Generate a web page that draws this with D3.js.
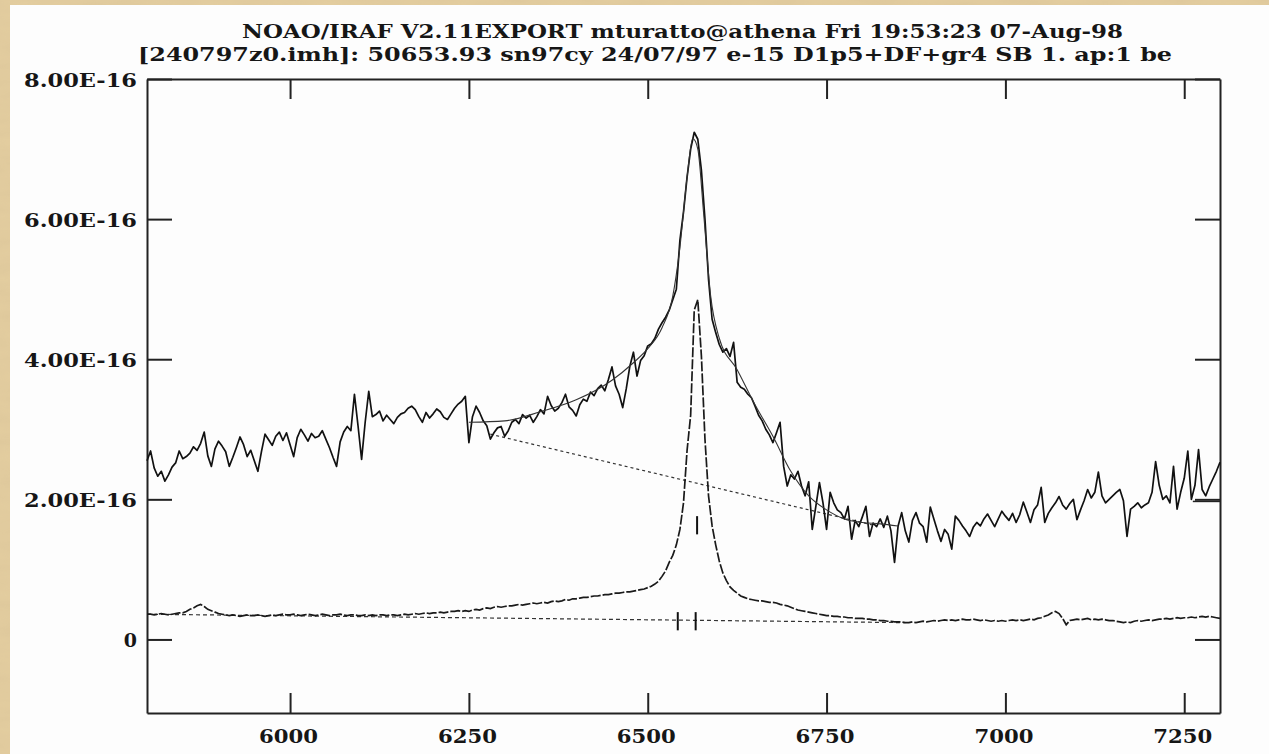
<!DOCTYPE html>
<html>
<head>
<meta charset="utf-8">
<script src="https://cdn.jsdelivr.net/npm/d3@7"></script>
<style>
  html, body { margin: 0; padding: 0; background: #e0c999; }
  svg { display: block; }
  .tick text { font-family: "DejaVu Serif", serif; font-weight: bold; font-size: 19px; fill: #161616; }
  .tick line { stroke: #222; stroke-width: 2; }
  .domain { stroke: #222; stroke-width: 2; fill: none; }
  .title { font-family: "DejaVu Serif", serif; font-weight: bold; font-size: 19px; fill: #161616; }
</style>
</head>
<body>
<script>
// Title lines (IRAF splot header)
var titleLine1 = "NOAO/IRAF V2.11EXPORT mturatto@athena Fri 19:53:23 07-Aug-98";
var titleLine2 = "[240797z0.imh]: 50653.93 sn97cy 24/07/97 e-15 D1p5+DF+gr4 SB 1. ap:1 be";

// Axis ticks
var xTicks = [6000, 6250, 6500, 6750, 7000, 7250];
var yTicks = [0, 2, 4, 6, 8];
var yTickLabels = ["0", "2.00E-16", "4.00E-16", "6.00E-16", "8.00E-16"];

// Wavelength grid of the spectra (Angstrom)
var waveStart = 5800;
var waveStep = 5;

// Observed spectrum, flux in units of 1e-16
var fluxObs = [
  2.55, 2.69, 2.45, 2.33, 2.40, 2.26, 2.35, 2.46, 2.52, 2.69,
  2.58, 2.61, 2.66, 2.75, 2.70, 2.80, 2.96, 2.62, 2.47, 2.72,
  2.83, 2.76, 2.68, 2.47, 2.60, 2.74, 2.89, 2.78, 2.61, 2.70,
  2.55, 2.40, 2.68, 2.93, 2.85, 2.77, 2.90, 2.96, 2.84, 2.95,
  2.78, 2.61, 2.88, 3.00, 2.92, 2.83, 2.94, 2.88, 2.90, 2.98,
  2.86, 2.74, 2.60, 2.47, 2.82, 2.96, 3.04, 2.98, 3.50, 3.05,
  2.57, 3.10, 3.54, 3.18, 3.21, 3.26, 3.12, 3.20, 3.14, 3.08,
  3.17, 3.22, 3.24, 3.30, 3.33, 3.28, 3.18, 3.10, 3.24, 3.16,
  3.22, 3.29, 3.25, 3.17, 3.14, 3.22, 3.30, 3.36, 3.40, 3.47,
  2.81, 3.18, 3.33, 3.24, 3.12, 3.05, 2.86, 2.95, 3.02, 3.04,
  2.90, 2.98, 3.10, 3.14, 3.08, 3.21, 3.16, 3.20, 3.10, 3.18,
  3.28, 3.22, 3.47, 3.34, 3.26, 3.30, 3.38, 3.50, 3.32, 3.27,
  3.19, 3.35, 3.43, 3.40, 3.53, 3.48, 3.58, 3.63, 3.55, 3.71,
  3.89, 3.62, 3.50, 3.31, 3.58, 3.90, 4.10, 3.76, 3.98, 4.05,
  4.19, 4.22, 4.30, 4.43, 4.52, 4.60, 4.70, 4.85, 5.00, 5.70,
  6.10, 6.60, 7.00, 7.24, 7.14, 6.70, 6.00, 5.14, 4.57, 4.38,
  4.21, 4.10, 4.15, 4.04, 4.24, 3.67, 3.60, 3.57, 3.50, 3.45,
  3.33, 3.20, 3.12, 3.00, 2.92, 2.81, 2.95, 3.10, 2.47, 2.19,
  2.35, 2.29, 2.40, 2.19, 2.05, 2.25, 1.57, 1.90, 2.24, 1.95,
  1.57, 2.10, 1.95, 1.85, 1.81, 1.72, 1.90, 1.43, 1.70, 1.61,
  1.75, 1.90, 1.47, 1.66, 1.61, 1.72, 1.60, 1.76, 1.55, 1.10,
  1.62, 1.81, 1.55, 1.39, 1.70, 1.81, 1.66, 1.61, 1.39, 1.89,
  1.72, 1.55, 1.40, 1.57, 1.50, 1.29, 1.76, 1.70, 1.62, 1.55,
  1.47, 1.60, 1.67, 1.62, 1.72, 1.79, 1.70, 1.61, 1.72, 1.83,
  1.76, 1.70, 1.80, 1.67, 1.78, 1.96, 1.82, 1.67, 1.85, 1.92,
  2.17, 1.67, 1.80, 1.88, 1.95, 2.04, 1.92, 1.86, 1.94, 2.00,
  1.71, 1.85, 1.98, 2.14, 2.02, 2.10, 2.39, 2.05, 1.95, 2.00,
  2.05, 2.10, 2.14, 1.98, 1.47, 1.86, 1.90, 1.95, 1.88, 1.92,
  1.95, 2.10, 2.54, 2.20, 2.00, 2.05, 1.95, 2.47, 1.86, 2.10,
  2.30, 2.69, 2.00, 2.20, 2.71, 2.14, 2.05, 2.18, 2.29, 2.40,
  2.53
];

// Lower (comparison) spectrum, flux in units of 1e-16
var fluxLow = [
  0.36, 0.36, 0.35, 0.36, 0.37, 0.36, 0.35, 0.36, 0.37, 0.38,
  0.38, 0.40, 0.43, 0.45, 0.48, 0.50, 0.47, 0.43, 0.41, 0.39,
  0.37, 0.36, 0.35, 0.34, 0.35, 0.34, 0.33, 0.34, 0.35, 0.34,
  0.34, 0.35, 0.34, 0.33, 0.34, 0.35, 0.34, 0.35, 0.36, 0.35,
  0.35, 0.36, 0.35, 0.34, 0.35, 0.36, 0.35, 0.34, 0.35, 0.36,
  0.35, 0.34, 0.35, 0.35, 0.36, 0.35, 0.34, 0.35, 0.35, 0.34,
  0.34, 0.35, 0.34, 0.35, 0.34, 0.35, 0.35, 0.34, 0.35, 0.35,
  0.34, 0.35, 0.36, 0.35, 0.36, 0.37, 0.36, 0.37, 0.38, 0.37,
  0.38, 0.38, 0.39, 0.38, 0.39, 0.40, 0.40, 0.41, 0.40, 0.41,
  0.40, 0.42, 0.43, 0.42, 0.44, 0.45, 0.44, 0.46, 0.47, 0.46,
  0.47, 0.48, 0.48, 0.49, 0.50, 0.49, 0.50, 0.51, 0.52, 0.51,
  0.52, 0.53, 0.52, 0.54, 0.55, 0.54, 0.55, 0.57, 0.56, 0.58,
  0.58, 0.59, 0.60, 0.60, 0.61, 0.62, 0.62, 0.63, 0.64, 0.64,
  0.65, 0.66, 0.66, 0.67, 0.68, 0.68, 0.69, 0.70, 0.71, 0.72,
  0.74, 0.76, 0.79, 0.83, 0.90, 0.98, 1.10, 1.20, 1.35, 1.57,
  1.95, 2.70, 3.20, 4.70, 4.85, 4.05, 2.86, 2.05, 1.62, 1.35,
  1.12, 0.95, 0.84, 0.75, 0.70, 0.66, 0.62, 0.60, 0.58, 0.57,
  0.56, 0.55, 0.55, 0.54, 0.53, 0.53, 0.52, 0.50, 0.49, 0.48,
  0.46, 0.44, 0.42, 0.41, 0.40, 0.39, 0.38, 0.37, 0.36, 0.35,
  0.34, 0.34, 0.33, 0.33, 0.32, 0.32, 0.31, 0.31, 0.30, 0.30,
  0.30, 0.29, 0.29, 0.28, 0.28, 0.27, 0.27, 0.26, 0.26, 0.25,
  0.25, 0.25, 0.24, 0.24, 0.25, 0.24, 0.25, 0.26, 0.25, 0.26,
  0.27, 0.26, 0.27, 0.28, 0.27, 0.28, 0.27, 0.28, 0.29, 0.28,
  0.28, 0.29, 0.28, 0.27, 0.28, 0.27, 0.26, 0.27, 0.26, 0.27,
  0.26, 0.27, 0.28, 0.27, 0.28, 0.27, 0.28, 0.29, 0.28, 0.30,
  0.31, 0.33, 0.35, 0.38, 0.40, 0.37, 0.30, 0.21, 0.27, 0.28,
  0.29, 0.28, 0.29, 0.30, 0.28, 0.29, 0.28, 0.29, 0.28, 0.27,
  0.27, 0.26, 0.25, 0.24, 0.25, 0.24, 0.26, 0.27, 0.26, 0.27,
  0.28, 0.27, 0.28, 0.29, 0.29, 0.30, 0.29, 0.30, 0.31, 0.30,
  0.31, 0.31, 0.32, 0.31, 0.32, 0.33, 0.32, 0.33, 0.32, 0.31,
  0.30
];

// Smooth line fit over the broad H-alpha profile
var fitWave = [6250, 6300, 6350, 6400, 6450, 6480, 6500, 6520, 6535, 6545, 6555, 6563, 6570, 6578, 6588, 6600, 6625, 6650, 6675, 6700, 6725, 6750, 6775, 6800, 6825, 6850];
var fitFlux = [3.10, 3.12, 3.25, 3.42, 3.70, 3.95, 4.15, 4.45, 4.90, 5.60, 6.60, 7.15, 7.00, 6.10, 4.90, 4.30, 3.85, 3.35, 2.90, 2.40, 2.05, 1.85, 1.72, 1.67, 1.65, 1.62];

// Continuum levels (dotted)
var contWave = [6280, 6820];
var contFlux = [2.93, 1.62];
var lowContWave = [5800, 6860];
var lowContFlux = [0.36, 0.24];

// Short marker bars
var markWave = [6542, 6567, 6569];
var markLo = [0.13, 0.13, 1.50];
var markHi = [0.39, 0.39, 1.76];

// Right edge segment
var edgeWave = [7262, 7300];
var edgeFlux = [1.97, 1.97];

// SVG area
var svgWidth = 1269;
var svgHeight = 754;

var chartMargin = { top: 79, right: 49, bottom: 41, left: 147 };
var chartWidth = svgWidth - chartMargin.left - chartMargin.right;
var chartHeight = svgHeight - chartMargin.top - chartMargin.bottom;

var svg = d3.select("body")
    .append("svg")
    .attr("width", svgWidth)
    .attr("height", svgHeight);

// Parchment background with a little texture
var defs = svg.append("defs");
var filt = defs.append("filter").attr("id", "paper").attr("x", 0).attr("y", 0).attr("width", "100%").attr("height", "100%");
filt.append("feTurbulence").attr("type", "fractalNoise").attr("baseFrequency", "0.02 0.08").attr("numOctaves", 3).attr("seed", 4);
filt.append("feColorMatrix").attr("type", "matrix")
    .attr("values", "0 0 0 0 0.62  0 0 0 0 0.48  0 0 0 0 0.28  0 0 0 0.55 0");

svg.append("rect").attr("width", svgWidth).attr("height", svgHeight).attr("fill", "#e4cea0");
svg.append("rect").attr("width", svgWidth).attr("height", svgHeight).attr("filter", "url(#paper)").attr("opacity", 0.5);

// White page
svg.append("rect")
    .attr("x", 10).attr("y", 5)
    .attr("width", svgWidth - 10).attr("height", svgHeight - 5)
    .attr("fill", "#fdfdfd");

// Titles (wide typewriter-like lettering)
svg.append("text")
    .attr("class", "title")
    .attr("x", 242).attr("y", 38)
    .attr("textLength", 881).attr("lengthAdjust", "spacingAndGlyphs")
    .text(titleLine1);

svg.append("text")
    .attr("class", "title")
    .attr("x", 138).attr("y", 61)
    .attr("textLength", 1034).attr("lengthAdjust", "spacingAndGlyphs")
    .text(titleLine2);

var chartGroup = svg.append("g")
    .attr("transform", `translate(${chartMargin.left}, ${chartMargin.top})`);

// Scales
var xScale = d3.scaleLinear()
    .domain([5800, 7300])
    .range([0, chartWidth]);

var yScale = d3.scaleLinear()
    .domain([-1.05, 8])
    .range([chartHeight, 0]);

// Axes, ticks drawn inward on all four sides
var bottomAxis = d3.axisBottom(xScale).tickValues(xTicks).tickSizeInner(-20).tickSizeOuter(0).tickPadding(17).tickFormat(d3.format("d"));
var topAxis = d3.axisTop(xScale).tickValues(xTicks).tickSizeInner(-20).tickSizeOuter(0).tickFormat("");
var leftAxis = d3.axisLeft(yScale).tickValues(yTicks).tickSizeInner(-25).tickSizeOuter(0).tickPadding(10)
    .tickFormat(function (d, i) { return yTickLabels[i]; });
var rightAxis = d3.axisRight(yScale).tickValues(yTicks).tickSizeInner(-25).tickSizeOuter(0).tickFormat("");

chartGroup.append("g")
    .attr("transform", `translate(0, ${chartHeight})`)
    .call(bottomAxis)
    .selectAll("text")
    .attr("x", -2)
    .attr("textLength", 59)
    .attr("lengthAdjust", "spacingAndGlyphs");

chartGroup.append("g").call(topAxis);

chartGroup.append("g")
    .call(leftAxis)
    .selectAll("text")
    .attr("dy", "0.38em")
    .filter(function (d) { return d !== 0; })
    .attr("textLength", 113)
    .attr("lengthAdjust", "spacingAndGlyphs");

chartGroup.append("g")
    .attr("transform", `translate(${chartWidth}, 0)`)
    .call(rightAxis);

// Build point lists
var obsData = fluxObs.map(function (f, i) { return { w: waveStart + i * waveStep, f: f }; });
var lowData = fluxLow.map(function (f, i) { return { w: waveStart + i * waveStep, f: f }; });
var fitData = fitWave.map(function (w, i) { return { w: w, f: fitFlux[i] }; });
var contData = contWave.map(function (w, i) { return { w: w, f: contFlux[i] }; });
var lowContData = lowContWave.map(function (w, i) { return { w: w, f: lowContFlux[i] }; });
var edgeData = edgeWave.map(function (w, i) { return { w: w, f: edgeFlux[i] }; });

var line = d3.line()
    .x(d => xScale(d.w))
    .y(d => yScale(d.f));

var smooth = d3.line()
    .curve(d3.curveMonotoneX)
    .x(d => xScale(d.w))
    .y(d => yScale(d.f));

// Dotted continua
chartGroup.append("path")
    .datum(contData)
    .attr("d", line)
    .attr("fill", "none")
    .attr("stroke", "#333")
    .attr("stroke-width", 1.2)
    .attr("stroke-dasharray", "3,3");

chartGroup.append("path")
    .datum(lowContData)
    .attr("d", line)
    .attr("fill", "none")
    .attr("stroke", "#333")
    .attr("stroke-width", 1.2)
    .attr("stroke-dasharray", "4,3");

// Lower spectrum (dashed)
chartGroup.append("path")
    .datum(lowData)
    .attr("d", line)
    .attr("fill", "none")
    .attr("stroke", "#1a1a1a")
    .attr("stroke-width", 1.7)
    .attr("stroke-dasharray", "10,2");

// Observed spectrum
chartGroup.append("path")
    .datum(obsData)
    .attr("d", line)
    .attr("fill", "none")
    .attr("stroke", "#111")
    .attr("stroke-width", 1.7)
    .attr("stroke-linejoin", "round");

// Fit
chartGroup.append("path")
    .datum(fitData)
    .attr("d", smooth)
    .attr("fill", "none")
    .attr("stroke", "#333")
    .attr("stroke-width", 1.1);

chartGroup.append("path")
    .datum(edgeData)
    .attr("d", line)
    .attr("fill", "none")
    .attr("stroke", "#222")
    .attr("stroke-width", 1.5);

// Marker bars
chartGroup.selectAll(".mark")
    .data(markWave)
    .enter()
    .append("line")
    .attr("class", "mark")
    .attr("x1", d => xScale(d))
    .attr("x2", d => xScale(d))
    .attr("y1", (d, i) => yScale(markLo[i]))
    .attr("y2", (d, i) => yScale(markHi[i]))
    .attr("stroke", "#111")
    .attr("stroke-width", 2);
</script>
</body>
</html>
